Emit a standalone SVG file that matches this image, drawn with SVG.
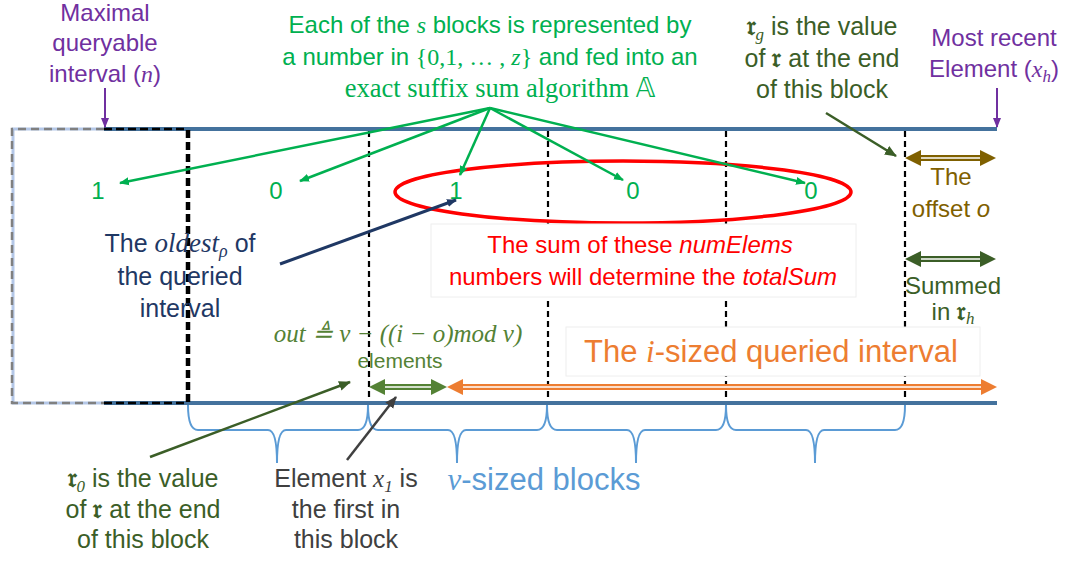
<svg xmlns="http://www.w3.org/2000/svg" width="1073" height="563" viewBox="0 0 1073 563">
<style>
text{font-family:"Liberation Sans",Arial,sans-serif;font-size:24px;text-anchor:middle}
.m{font-family:"Liberation Serif","DejaVu Serif",serif;font-style:italic}
.fr{font-family:"DejaVu Serif","Noto Sans",serif;font-style:normal;font-weight:bold}
.pur{fill:#7030a0}
.grn{fill:#00b050}
.dg{fill:#3b5e27}
.nv{fill:#1f3864}
.rd{fill:#ff0000}
.gr{fill:#404040}
.vd{stroke:#000;stroke-width:2.2;stroke-dasharray:6,4;fill:none}
.box{fill:#fff;stroke:#eeeeee;stroke-width:1}
</style>
<defs>
<marker id="ag" markerWidth="10" markerHeight="10" refX="9" refY="5" orient="auto" markerUnits="userSpaceOnUse"><path d="M0,1 L10,5 L0,9 Z" fill="#00b050"/></marker>
<marker id="an" markerWidth="10" markerHeight="10" refX="9" refY="5" orient="auto" markerUnits="userSpaceOnUse"><path d="M0,1 L10,5 L0,9 Z" fill="#1f3864"/></marker>
<marker id="ad" markerWidth="12" markerHeight="12" refX="11" refY="6" orient="auto" markerUnits="userSpaceOnUse"><path d="M0,1 L12,6 L0,11 Z" fill="#3b5e27"/></marker>
<marker id="ak" markerWidth="12" markerHeight="12" refX="11" refY="6" orient="auto" markerUnits="userSpaceOnUse"><path d="M0,1 L12,6 L0,11 Z" fill="#404040"/></marker>
<marker id="ap" markerWidth="10" markerHeight="10" refX="9" refY="5" orient="auto" markerUnits="userSpaceOnUse"><path d="M0,1 L10,5 L0,9 Z" fill="#7030a0"/></marker>
</defs>
<rect width="1073" height="563" fill="#fff"/>

<g id="frame">
<path d="M12,129 H104 M12,403 H104 M13,129 V403" stroke="#b4c7e7" stroke-width="3" fill="none"/>
<path d="M104,129 H997 M104,403 H997" stroke="#44729d" stroke-width="4" fill="none"/>
<path d="M104,129 H12 V403 H104" stroke="#808080" stroke-width="2.5" stroke-dasharray="8,5" fill="none"/>
<path d="M104,129 H187 M104,403 H187" stroke="#000" stroke-width="2.5" stroke-dasharray="8,4" fill="none"/>
<line x1="188" y1="130" x2="188" y2="402" stroke="#000" stroke-width="4.5" stroke-dasharray="8,4"/>
<line class="vd" x1="369" y1="131" x2="369" y2="401"/>
<line class="vd" x1="548" y1="131" x2="548" y2="401"/>
<line class="vd" x1="726" y1="131" x2="726" y2="401"/>
<line class="vd" x1="905" y1="131" x2="905" y2="401"/>
</g>

<g id="braces" fill="none" stroke="#5b9bd5" stroke-width="2">
<path d="M188,405 Q188,430 198,430 H268 Q277,430 277,463 Q277,430 286,430 H358 Q368,430 368,405"/>
<path d="M368,405 Q368,430 378,430 H448 Q457,430 457,463 Q457,430 466,430 H537 Q547,430 547,405"/>
<path d="M547,405 Q547,430 557,430 H627 Q636,430 636,463 Q636,430 645,430 H716 Q726,430 726,405"/>
<path d="M726,405 Q726,430 736,430 H806 Q815,430 815,463 Q815,430 824,430 H895 Q905,430 905,405"/>
</g>

<g id="ellipse">
<ellipse cx="623" cy="192" rx="228" ry="31" fill="none" stroke="#ff0000" stroke-width="3.5"/>
</g>

<g id="numbers">
<text x="98" y="199" class="grn">1</text>
<text x="276" y="199" class="grn">0</text>
<text x="456" y="199" class="grn">1</text>
<text x="633" y="199" class="grn">0</text>
<text x="811" y="199" class="grn">0</text>
</g>

<g id="connectors">
<g stroke="#00b050" stroke-width="2.5" fill="none" marker-end="url(#ag)">
<line x1="490" y1="108" x2="120" y2="183"/>
<line x1="490" y1="108" x2="300" y2="181"/>
<line x1="490" y1="108" x2="460" y2="175"/>
<line x1="490" y1="108" x2="623" y2="180"/>
<line x1="490" y1="108" x2="805" y2="183"/>
</g>
<line x1="105" y1="88" x2="105" y2="127" stroke="#7030a0" stroke-width="2" marker-end="url(#ap)"/>
<line x1="997" y1="88" x2="997" y2="127" stroke="#7030a0" stroke-width="2" marker-end="url(#ap)"/>
<line x1="826" y1="113" x2="896" y2="156" stroke="#3b5e27" stroke-width="2.5" marker-end="url(#ad)"/>
<line x1="280" y1="264" x2="456" y2="200" stroke="#1f3864" stroke-width="3" marker-end="url(#an)"/>
<line x1="150" y1="457" x2="350" y2="382" stroke="#3b5e27" stroke-width="2.5" marker-end="url(#ad)"/>
<line x1="347" y1="460" x2="396" y2="397" stroke="#404040" stroke-width="2.5" marker-end="url(#ak)"/>
</g>

<g id="offset-arrow">
<line x1="915" y1="158" x2="985" y2="158" stroke="#7f6000" stroke-width="6"/>
<line x1="915" y1="158" x2="985" y2="158" stroke="#fff" stroke-width="1.6"/>
<path d="M905,158 L921,150 L921,166 Z M996,158 L980,150 L980,166 Z" fill="#7f6000"/>
</g>
<g id="summed-arrow">
<line x1="915" y1="259" x2="985" y2="259" stroke="#3b5e27" stroke-width="6"/>
<line x1="915" y1="259" x2="985" y2="259" stroke="#fff" stroke-width="1.6"/>
<path d="M905,259 L921,251 L921,267 Z M996,259 L980,251 L980,267 Z" fill="#3b5e27"/>
</g>
<g id="out-arrow">
<line x1="380" y1="387" x2="436" y2="387" stroke="#548235" stroke-width="6"/>
<line x1="380" y1="387" x2="436" y2="387" stroke="#fff" stroke-width="1.6"/>
<path d="M369,387 L385,379 L385,395 Z M447,387 L431,379 L431,395 Z" fill="#548235"/>
</g>
<g id="interval-arrow">
<line x1="458" y1="387" x2="985" y2="387" stroke="#ed7d31" stroke-width="6"/>
<line x1="458" y1="387" x2="985" y2="387" stroke="#fff" stroke-width="1.6"/>
<path d="M447,387 L463,379 L463,395 Z M997,387 L981,379 L981,395 Z" fill="#ed7d31"/>
</g>

<g id="top-label">
<text x="490" y="33" class="grn">Each of the <tspan class="m">s</tspan> blocks is represented by</text>
<text x="490" y="65" class="grn">a number in <tspan font-family="Liberation Serif,serif">{0,1, … , <tspan font-style="italic">z</tspan>}</tspan> and fed into an</text>
<text x="500" y="97" class="grn" style="font-family:'Liberation Serif',serif;font-size:26.5px">exact suffix sum algorithm <tspan font-family="DejaVu Sans,sans-serif">𝔸</tspan></text>
</g>

<g id="maximal-label">
<text x="105" y="21" class="pur">Maximal</text>
<text x="105" y="51" class="pur">queryable</text>
<text x="105" y="82" class="pur">interval (<tspan class="m">n</tspan>)</text>
</g>

<g id="recent-label">
<text x="994" y="46" class="pur">Most recent</text>
<text x="994" y="77" class="pur">Element (<tspan class="m">x</tspan><tspan class="m" font-size="17" dy="5">h</tspan><tspan dy="-5">)</tspan></text>
</g>

<g id="rg-label">
<text x="822" y="35" class="dg" style="font-size:25px"><tspan class="fr">𝔯</tspan><tspan class="m" font-size="17" dy="5">g</tspan><tspan dy="-5"> is the value</tspan></text>
<text x="822" y="67" class="dg" style="font-size:25px">of <tspan class="fr">𝔯</tspan> at the end</text>
<text x="822" y="98" class="dg" style="font-size:25px">of this block</text>
</g>

<g id="offset-label">
<text x="951" y="185" fill="#7f6000">The</text>
<text x="951" y="217" fill="#7f6000">offset <tspan font-style="italic">o</tspan></text>
</g>

<g id="summed-label">
<text x="953" y="294" class="dg">Summed</text>
<text x="953" y="320" class="dg">in <tspan class="fr">𝔯</tspan><tspan class="m" font-size="17" dy="4">h</tspan></text>
</g>

<g id="sum-label">
<rect class="box" x="431" y="224" width="425" height="73"/>
<text x="640" y="253" class="rd">The sum of these <tspan font-style="italic">numElems</tspan></text>
<text x="643" y="285" class="rd">numbers will determine the <tspan font-style="italic">totalSum</tspan></text>
</g>

<g id="oldest-label">
<text x="180" y="252" class="nv" style="font-size:25px">The <tspan class="m" font-size="27">oldest</tspan><tspan class="m" font-size="18" dy="5">ρ</tspan><tspan dy="-5"> of</tspan></text>
<text x="180" y="285" class="nv" style="font-size:25px">the queried</text>
<text x="180" y="317" class="nv" style="font-size:25px">interval</text>
</g>

<g id="out-label">
<text x="398" y="342" class="m" fill="#548235" style="font-size:25px">out ≜ ν − ((i − o)mod ν)</text>
<text x="400" y="368" fill="#548235" style="font-size:21px">elements</text>
</g>

<g id="interval-label">
<rect class="box" x="566" y="327" width="414" height="49"/>
<text x="771" y="362" fill="#ed7d31" style="font-size:31px">The <tspan class="m">i</tspan>-sized queried interval</text>
</g>

<g id="r0-label">
<text x="143" y="487" class="dg" style="font-size:25px"><tspan class="fr">𝔯</tspan><tspan class="m" font-size="17" dy="5">0</tspan><tspan dy="-5"> is the value</tspan></text>
<text x="143" y="518" class="dg" style="font-size:25px">of <tspan class="fr">𝔯</tspan> at the end</text>
<text x="143" y="548" class="dg" style="font-size:25px">of this block</text>
</g>

<g id="x1-label">
<text x="346" y="487" class="gr" style="font-size:25px">Element <tspan class="m">x</tspan><tspan class="m" font-size="17" dy="5">1</tspan><tspan dy="-5"> is</tspan></text>
<text x="346" y="518" class="gr" style="font-size:25px">the first in</text>
<text x="346" y="548" class="gr" style="font-size:25px">this block</text>
</g>

<g id="blocks-label">
<text x="544" y="490" fill="#5b9bd5" style="font-size:31px"><tspan class="m">ν</tspan>-sized blocks</text>
</g>
</svg>
